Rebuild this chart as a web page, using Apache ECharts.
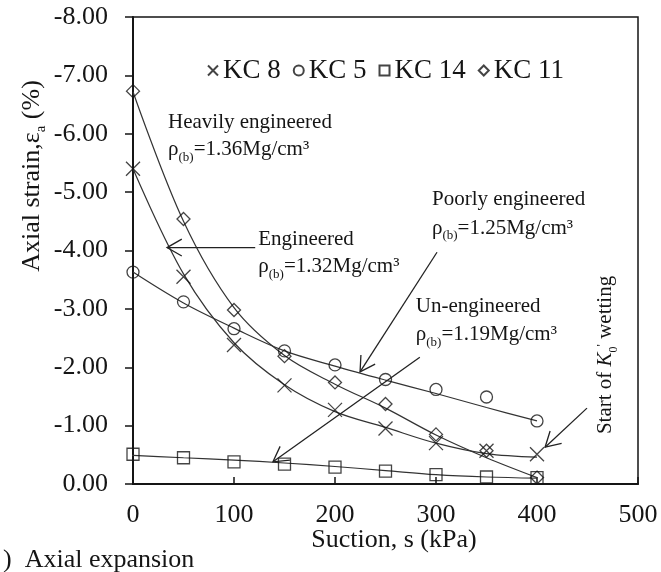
<!DOCTYPE html>
<html>
<head>
<meta charset="utf-8">
<script src="https://cdn.jsdelivr.net/npm/echarts@6/dist/echarts.min.js"></script>
<style>
  html, body { margin: 0; padding: 0; background: #fff; }
  #chart { width: 661px; height: 572px; }
</style>
</head>
<body>
<div id="chart"></div>
<script>
// Suction steps (kPa)
const suction = [0, 50, 100, 150, 200, 250, 300, 350, 400];

// Measured axial strain (%) for each specimen (negative = expansion)
const kc8  = [-5.40, -3.55, -2.38, -1.69, -1.27, -0.95, -0.70, -0.57, -0.51];
const kc5  = [-3.63, -3.12, -2.66, -2.28, -2.04, -1.79, -1.62, -1.49, -1.08];
const kc14 = [-0.51, -0.45, -0.38, -0.34, -0.29, -0.22, -0.16, -0.12, -0.11];
const kc11 = [-6.73, -4.54, -2.98, -2.19, -1.74, -1.37, -0.85, -0.57, -0.11];

// Fitted trend curves through each set
const kc8Trend  = [-5.40, -3.60, -2.42, -1.70, -1.24, -0.97, -0.70, -0.52, -0.46];
const kc5Trend  = [-3.63, -3.10, -2.67, -2.28, -2.02, -1.78, -1.55, -1.31, -1.08];
const kc11Trend = [-6.72, -4.50, -3.02, -2.20, -1.71, -1.30, -0.84, -0.45, -0.11];
const kc14TrendSuction = [-15, 0, 50, 100, 150, 200, 250, 300, 350, 400];
const kc14Trend = [-0.50, -0.49, -0.45, -0.41, -0.36, -0.30, -0.23, -0.16, -0.12, -0.10];

// Axis ranges
const suctionTicks = [0, 100, 200, 300, 400, 500];
const strainTicks = [-8, -7, -6, -5, -4, -3, -2, -1, 0];

// Legend entries
const specimens = ['KC 8', 'KC 5', 'KC 14', 'KC 11'];

const SERIF = '"Liberation Serif", "Times New Roman", serif';
const INK = '#151515';

const pairs = (xs, ys) => xs.map((x, i) => [x, ys[i]]);

const markerStyle = { color: 'rgba(0,0,0,0)', borderColor: INK, borderWidth: 1.3 };
const trendStyle = { color: '#333', width: 1.2 };

function scatter(name, values, symbol, size) {
  return {
    name, type: 'scatter', data: pairs(suction, values),
    symbol, symbolSize: size, itemStyle: markerStyle, z: 4, silent: true
  };
}
function trend(xs, values) {
  return {
    type: 'line', data: pairs(xs, values), symbol: 'none', showSymbol: false,
    smooth: 0.35, lineStyle: trendStyle, z: 2, silent: true, clip: false
  };
}

const chart = echarts.init(document.getElementById('chart'), null, { renderer: 'canvas' });

chart.setOption({
  animation: false,
  backgroundColor: '#fff',
  grid: {
    left: 133, right: 23, top: 17, bottom: 88,
    show: true, borderColor: INK, borderWidth: 1.5, backgroundColor: 'transparent'
  },
  legend: {
    data: specimens,
    left: 202, top: 52,
    itemWidth: 10, itemHeight: 10, itemGap: 12,
    textStyle: { fontFamily: SERIF, fontSize: 27, color: INK },
    selectedMode: false
  },
  xAxis: {
    type: 'value',
    min: suctionTicks[0], max: suctionTicks[suctionTicks.length - 1], interval: 100,
    axisLine: { lineStyle: { color: INK, width: 2 } },
    axisTick: { inside: true, length: 7, lineStyle: { color: INK, width: 1.5 } },
    axisLabel: { fontFamily: SERIF, fontSize: 26, color: INK, margin: 18 },
    splitLine: { show: false }
  },
  yAxis: {
    type: 'value', inverse: true,
    min: strainTicks[0], max: strainTicks[strainTicks.length - 1], interval: 1,
    axisLine: { lineStyle: { color: INK, width: 2 } },
    axisTick: { inside: false, length: 8, lineStyle: { color: INK, width: 1.5 } },
    axisLabel: {
      fontFamily: SERIF, fontSize: 26, color: INK, margin: 25,
      formatter: v => (Math.abs(v) < 1e-9 ? 0 : v).toFixed(2)
    },
    splitLine: { show: false }
  },
  series: [
    trend(suction, kc8Trend),
    trend(suction, kc5Trend),
    trend(kc14TrendSuction, kc14Trend),
    trend(suction, kc11Trend),
    scatter('KC 8', kc8, 'path://M0,0L10,10M10,0L0,10', 14),
    scatter('KC 5', kc5, 'circle', 12),
    scatter('KC 14', kc14, 'rect', 12),
    scatter('KC 11', kc11, 'diamond', 13)
  ]
});

// ---- annotations (placed in data space) ----
const px = (x, y) => chart.convertToPixel({ gridIndex: 0 }, [x, y]);

const base = { fontFamily: SERIF, fill: INK };
const tok = (size, extra) => Object.assign({ fontFamily: SERIF, fontSize: size, fill: INK, lineHeight: 24, verticalAlign: 'top' }, extra || {});
const densityRich = {
  r: tok(21),
  b: tok(13, { lineHeight: 13, padding: [12, 0, 0, 0] }),
  n: tok(21)
};
const density = v => '{r|ρ}{b|(b)}{n|=' + v + 'Mg/cm³}';

const notes = [
  { at: [34.7, -6.17], text: '{n|Heavily engineered}' },
  { at: [34.7, -5.70], text: density('1.36') },
  { at: [124, -4.16], text: '{n|Engineered}' },
  { at: [124, -3.70], text: density('1.32') },
  { at: [296, -4.85], text: '{n|Poorly engineered}' },
  { at: [296, -4.36], text: density('1.25') },
  { at: [280, -3.02], text: '{n|Un-engineered}' },
  { at: [280, -2.53], text: density('1.19') }
];

const arrows = [
  { from: [121, -4.05], to: [33.7, -4.05] },
  { from: [301, -3.97], to: [224.8, -1.92] },
  { from: [284, -2.17], to: [138.6, -0.38] },
  { from: [449.5, -1.30], to: [408, -0.63] }
];

function arrowGraphics(a) {
  const p0 = px(a.from[0], a.from[1]);
  const p1 = px(a.to[0], a.to[1]);
  const ang = Math.atan2(p0[1] - p1[1], p0[0] - p1[0]);
  const L = 17, spread = 0.52;
  const h1 = [p1[0] + L * Math.cos(ang + spread), p1[1] + L * Math.sin(ang + spread)];
  const h2 = [p1[0] + L * Math.cos(ang - spread), p1[1] + L * Math.sin(ang - spread)];
  const st = { stroke: '#222', lineWidth: 1.3, fill: null };
  return [
    { type: 'polyline', shape: { points: [p0, p1] }, style: st, z: 10, silent: true },
    { type: 'polyline', shape: { points: [h1, p1, h2] }, style: st, z: 10, silent: true }
  ];
}

const graphics = [];
notes.forEach(n => {
  const p = px(n.at[0], n.at[1]);
  graphics.push({
    type: 'text', x: p[0], y: p[1], z: 10, silent: true,
    style: Object.assign({}, base, { text: n.text, rich: densityRich, fontSize: 21, align: 'left', verticalAlign: 'middle' })
  });
});
arrows.forEach(a => graphics.push(...arrowGraphics(a)));

// Wetting-start note, vertical
const wp = px(469.3, -2.21);
graphics.push({
  type: 'text', x: wp[0], y: wp[1], rotation: Math.PI / 2, z: 10, silent: true,
  style: Object.assign({}, base, {
    text: '{n|Start of }{k|K}{s|0}{p|\'}{n| wetting}',
    fontSize: 21, align: 'center', verticalAlign: 'middle',
    rich: {
      n: tok(21),
      k: tok(21, { fontStyle: 'italic' }),
      s: tok(12, { lineHeight: 12, padding: [13, 0, 0, 0] }),
      p: tok(13, { lineHeight: 13 })
    }
  })
});

// Axis titles and caption
graphics.push({
  type: 'text', x: 33, y: 176, rotation: Math.PI / 2, silent: true,
  style: Object.assign({}, base, {
    text: '{n|Axial strain,ε}{s|a}{n| (%)}',
    fontSize: 26, align: 'center', verticalAlign: 'middle',
    rich: {
      n: tok(26, { lineHeight: 28 }),
      s: tok(15, { lineHeight: 15, padding: [15, 0, 0, 0] })
    }
  })
});
graphics.push({
  type: 'text', x: 394, y: 540, silent: true,
  style: Object.assign({}, base, { text: 'Suction, s (kPa)', fontSize: 26, align: 'center', verticalAlign: 'middle' })
});
graphics.push({
  type: 'text', x: 3, y: 560, silent: true,
  style: Object.assign({}, base, { text: ')  Axial expansion', fontSize: 26, align: 'left', verticalAlign: 'middle' })
});

chart.setOption({ graphic: graphics });
</script>
</body>
</html>
